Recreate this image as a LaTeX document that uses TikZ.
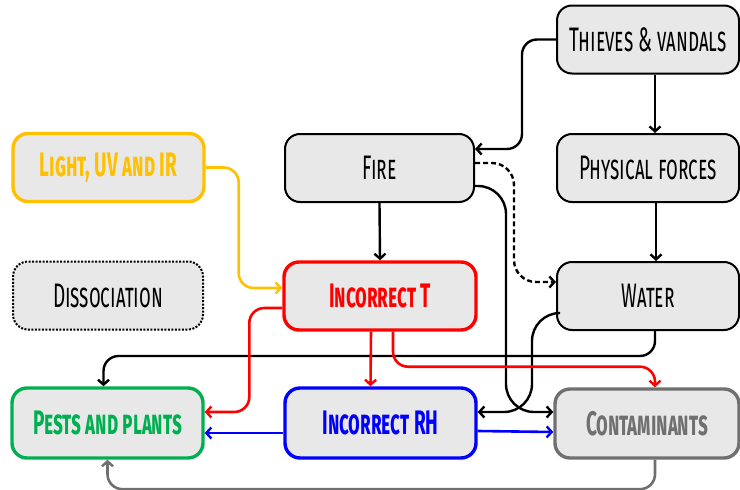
\documentclass[tikz,border=0pt]{standalone}
\usepackage{fontspec}
\setmainfont{Fira Sans}[FakeStretch=0.56]
\usetikzlibrary{arrows.meta}
\definecolor{boxfill}{HTML}{E8E8E8}
\definecolor{cyellow}{HTML}{FFC000}
\definecolor{cred}{HTML}{FF0000}
\definecolor{cblue}{HTML}{0000FF}
\definecolor{cgreen}{HTML}{00B050}
\definecolor{cgray}{HTML}{707070}
\tikzset{
  box/.style={draw=black, line width=2pt, fill=boxfill, rounded corners=15pt,
    minimum height=68pt, minimum width=190pt, inner sep=0pt,
    font=\fontsize{34}{36}\selectfont\scshape},
  cbox/.style={box, line width=3.4pt, draw=#1, text=#1, font=\fontsize{34}{36}\selectfont\bfseries\scshape},
  conn/.style={line width=2.4pt, rounded corners=15pt, -{Straight Barb[length=5pt,width=11pt,line width=2.4pt]}},
  cconn/.style={conn, line width=2.6pt, draw=#1}
}
\begin{document}
\begin{tikzpicture}[x=1pt,y=-1pt]
\useasboundingbox (0,0) rectangle (740,490);
\node[box, minimum width=182pt] (thieves) at (648,39.5) {Thieves \& vandals};
\node[box, minimum width=182pt] (physical) at (648,168) {Physical forces};
\node[box, minimum width=189pt] (fire) at (379.5,168) {Fire};
\node[cbox=cyellow, minimum width=191pt] (light) at (108.5,167.5) {Light, UV and IR};
\node[box, dash pattern=on 2pt off 1.5pt] (dissoc) at (108,295.5) {Dissociation};
\node[cbox=cred, minimum width=192pt] (incT) at (380,296) {Incorrect T};
\node[box, minimum width=182pt] (water) at (648,296) {Water};
\node[cbox=cgreen, minimum width=191pt, minimum height=70pt] (pests) at (107.5,423) {Pests and plants};
\node[cbox=cblue, minimum width=191pt, minimum height=70pt] (incRH) at (380.5,423) {Incorrect RH};
\node[cbox=cgray, minimum width=184pt, minimum height=69pt] (contam) at (647,423.5) {Contaminants};

% black connectors
\draw[conn] (thieves.west) -- ++(-34,0) |- ([yshift=19pt]fire.east);
\draw[conn] ([xshift=7pt]thieves.south) -- ([xshift=7pt]physical.north);
\draw[conn] ([xshift=8pt]physical.south) -- ([xshift=8pt]water.north);
\draw[conn] (fire.south) -- (incT.north);
\draw[conn, dash pattern=on 5pt off 3pt, rounded corners=22pt] ([yshift=5pt]fire.east) -- ++(39,0) |- ([yshift=14pt]water.west);
\draw[conn, rounded corners=28pt] ([yshift=-18pt]fire.east) -- ++(31,0) |- ([yshift=11.5pt]contam.west);
\draw[conn, rounded corners=28pt] ([yshift=-17pt]water.west) -- ++(-24,0) |- ([yshift=11pt]incRH.east);
\draw[conn] ([xshift=7pt]water.south) -- ++(0,25) -| ([xshift=-4pt]pests.north);
% yellow
\draw[cconn=cyellow] (light.east) -- ++(33,0) |- ([yshift=8pt]incT.west);
% red
\draw[cconn=cred] ([yshift=-12pt]incT.west) -- ++(-33,0) |- ([yshift=11pt]pests.east);
\draw[cconn=cred] ([xshift=-9pt]incT.south) -- ([xshift=-10pt]incRH.north);
\draw[cconn=cred] ([xshift=13pt]incT.south) -- ++(0,35) -| ([xshift=8pt]contam.north);
% blue
\draw[cconn=cblue] ([yshift=-10pt]incRH.west) -- ([yshift=-10pt]pests.east);
\draw[cconn=cblue] ([yshift=-8pt]incRH.east) -- ([yshift=-8.5pt]contam.west);
% gray
\draw[cconn=cgray] ([xshift=8pt]contam.south) -- ++(0,29.5) -| (pests.south);
\end{tikzpicture}
\end{document}
